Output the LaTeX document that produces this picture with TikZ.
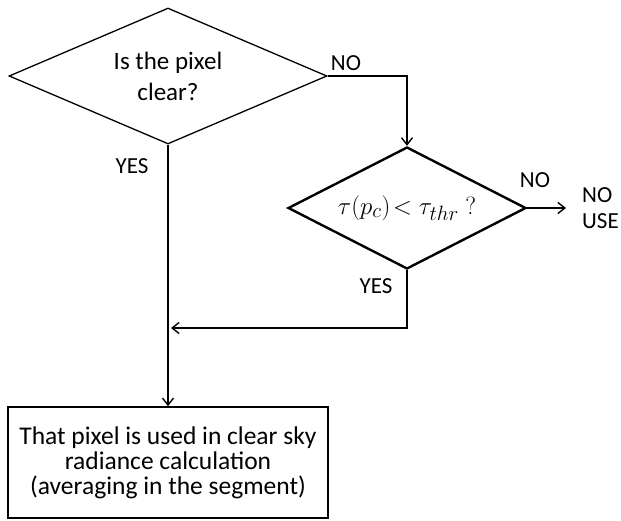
\documentclass[tikz,border=0pt]{standalone}
\usepackage{fontspec}
\setmainfont{Carlito}
\usetikzlibrary{shapes.geometric,arrows.meta}
\begin{document}
\begin{tikzpicture}[x=1pt,y=-1pt,
    flecha/.style={-{Straight Barb[length=7pt,width=11pt]}, line width=1.4pt},
    decision/.style={diamond, draw, inner sep=0pt, align=center},
    etiqueta/.style={inner sep=0pt, font=\fontsize{23}{27}\selectfont}]
  \useasboundingbox (0,0) rectangle (621,520);

  % Decisiones
  \node[decision, aspect=2.34, line width=1.3pt, minimum width=318pt, minimum height=136pt,
        font=\fontsize{25}{31}\selectfont] (clear) at (168,76) {Is the pixel\\clear?};
  \node[decision, aspect=1.95, line width=2.4pt, minimum width=238pt, minimum height=122pt,
        font=\fontsize{29}{30}\selectfont] (thr) at (407,208)
        {$\tau\bigl(p_c\bigr)\!<\tau_{thr}\ \mathrm{?}$};

  % Resultado
  \node[draw, line width=1.6pt, minimum width=320pt, minimum height=111pt, align=center,
        font=\fontsize{25.5}{25}\selectfont] (calc) at (168,462.5)
        {That pixel is used in clear sky\\radiance calculation\\(averaging in the segment)};
  \node[etiqueta, anchor=west, align=left, font=\fontsize{23}{26}\selectfont] (nouse) at (582,208) {NO\\USE};

  % Etiquetas
  \node[etiqueta] (no1) at (346,63) {NO};
  \node[etiqueta] (yes1) at (132,166) {YES};
  \node[etiqueta] (no2) at (535,180) {NO};
  \node[etiqueta] (yes2) at (376,286) {YES};

  % Flechas
  \coordinate (union) at (171,328);
  \draw[flecha] (clear.east) -| (thr.north);
  \draw[flecha] (clear.south) -- (calc.north);
  \draw[flecha, shorten >=16pt] (thr.east) -- (nouse.west);
  \draw[flecha] (thr.south) |- (union);
\end{tikzpicture}
\end{document}
